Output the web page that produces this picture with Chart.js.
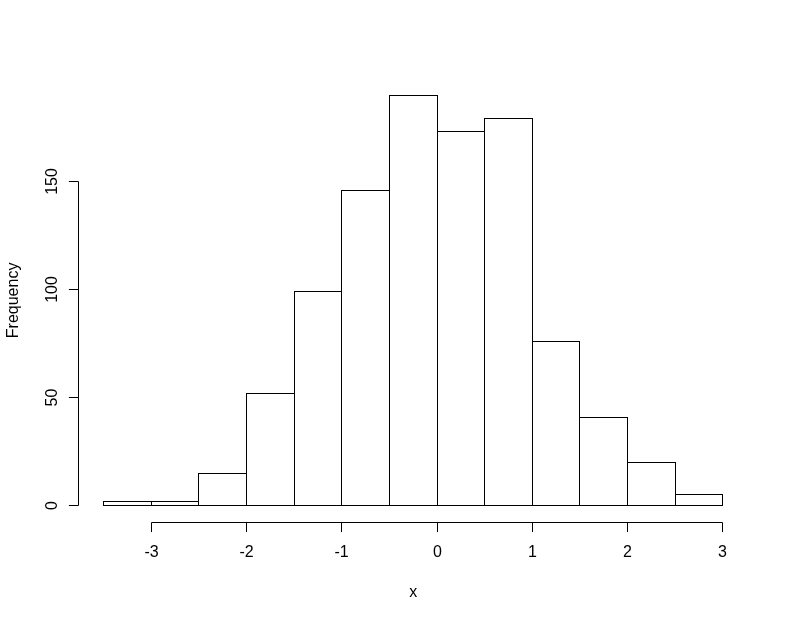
<!DOCTYPE html>
<html>
<head>
<meta charset="utf-8">
<script src="https://cdn.jsdelivr.net/npm/chart.js@4.4.1/dist/chart.umd.min.js"></script>
<style>
  html, body { margin: 0; padding: 0; background: #fff; }
  canvas { display: block; }
</style>
</head>
<body>
<canvas id="hist" width="788" height="620"></canvas>
<script>
  // histogram breaks and counts
  const breaks = [-3.5, -3, -2.5, -2, -1.5, -1, -0.5, 0, 0.5, 1, 1.5, 2, 2.5, 3];
  const counts = [2, 2, 15, 52, 99, 146, 190, 173, 179, 76, 41, 20, 5];
  const xTicks = [-3, -2, -1, 0, 1, 2, 3];
  const yTicks = [0, 50, 100, 150];
  const xTitle = 'x';
  const yTitle = 'Frequency';

  const FONT = '16px "Liberation Sans", Arial, sans-serif';

  const bins = counts.map((c, i) => ({ x: (breaks[i] + breaks[i + 1]) / 2, y: c }));

  // R style usr range: data range extended by 4%
  const xlo = breaks[0], xhi = breaks[breaks.length - 1];
  const ymax = Math.max(...counts);
  const xpad = (xhi - xlo) * 0.04, ypad = ymax * 0.04;

  // outlines drawn as 1px lines so shared edges don't double up
  const outlinePlugin = {
    id: 'outline',
    afterDatasetsDraw(chart) {
      const ctx = chart.ctx;
      const meta = chart.getDatasetMeta(0);
      ctx.save();
      ctx.strokeStyle = '#000';
      ctx.lineWidth = 1;
      meta.data.forEach(bar => {
        const p = bar.getProps(['x', 'y', 'base', 'width'], true);
        const l = Math.floor(p.x - p.width / 2) + 0.5;
        const r = Math.floor(p.x + p.width / 2) + 0.5;
        const t = Math.floor(p.y) + 0.5;
        const b = Math.floor(p.base) + 0.5;
        ctx.strokeRect(l, t, r - l, b - t);
      });
      ctx.restore();
    }
  };

  // detached R axes, tick labels and titles
  const axesPlugin = {
    id: 'rAxes',
    afterDraw(chart) {
      const ctx = chart.ctx;
      const area = chart.chartArea;
      const xs = chart.scales.x, ys = chart.scales.y;
      const tick = 9.6;
      ctx.save();
      ctx.strokeStyle = '#000';
      ctx.fillStyle = '#000';
      ctx.lineWidth = 1;
      ctx.font = FONT;

      // x axis
      const ax = Math.floor(area.bottom) + 0.5;
      const px = xTicks.map(v => Math.floor(xs.getPixelForValue(v)) + 0.5);
      ctx.beginPath();
      ctx.moveTo(px[0], ax);
      ctx.lineTo(px[px.length - 1], ax);
      px.forEach(p => { ctx.moveTo(p, ax); ctx.lineTo(p, ax + tick); });
      ctx.stroke();
      ctx.textAlign = 'center';
      ctx.textBaseline = 'alphabetic';
      xTicks.forEach((v, i) => ctx.fillText(String(v), px[i], area.bottom + 35));
      ctx.fillText(xTitle, (area.left + area.right) / 2, area.bottom + 75);

      // y axis
      const ay = Math.floor(area.left) + 0.5;
      const py = yTicks.map(v => Math.floor(ys.getPixelForValue(v)) + 0.5);
      ctx.beginPath();
      ctx.moveTo(ay, py[0]);
      ctx.lineTo(ay, py[py.length - 1]);
      py.forEach(p => { ctx.moveTo(ay, p); ctx.lineTo(ay - tick, p); });
      ctx.stroke();
      yTicks.forEach((v, i) => {
        ctx.save();
        ctx.translate(area.left - 22, py[i]);
        ctx.rotate(-Math.PI / 2);
        ctx.fillText(String(v), 0, 0);
        ctx.restore();
      });
      ctx.save();
      ctx.translate(area.left - 60.4, (area.top + area.bottom) / 2);
      ctx.rotate(-Math.PI / 2);
      ctx.fillText(yTitle, 0, 0);
      ctx.restore();

      ctx.restore();
    }
  };

  new Chart(document.getElementById('hist').getContext('2d'), {
    type: 'bar',
    data: {
      datasets: [{
        data: bins,
        backgroundColor: '#ffffff',
        borderWidth: 0,
        barPercentage: 1,
        categoryPercentage: 1
      }]
    },
    options: {
      responsive: false,
      animation: false,
      layout: { padding: { top: 78.7, right: 40.3, bottom: 97.9, left: 78.7 } },
      plugins: { legend: { display: false }, tooltip: { enabled: false } },
      scales: {
        x: { type: 'linear', offset: false, min: xlo - xpad, max: xhi + xpad, display: false },
        y: { type: 'linear', min: -ypad, max: ymax + ypad, display: false }
      }
    },
    plugins: [outlinePlugin, axesPlugin]
  });
</script>
</body>
</html>
